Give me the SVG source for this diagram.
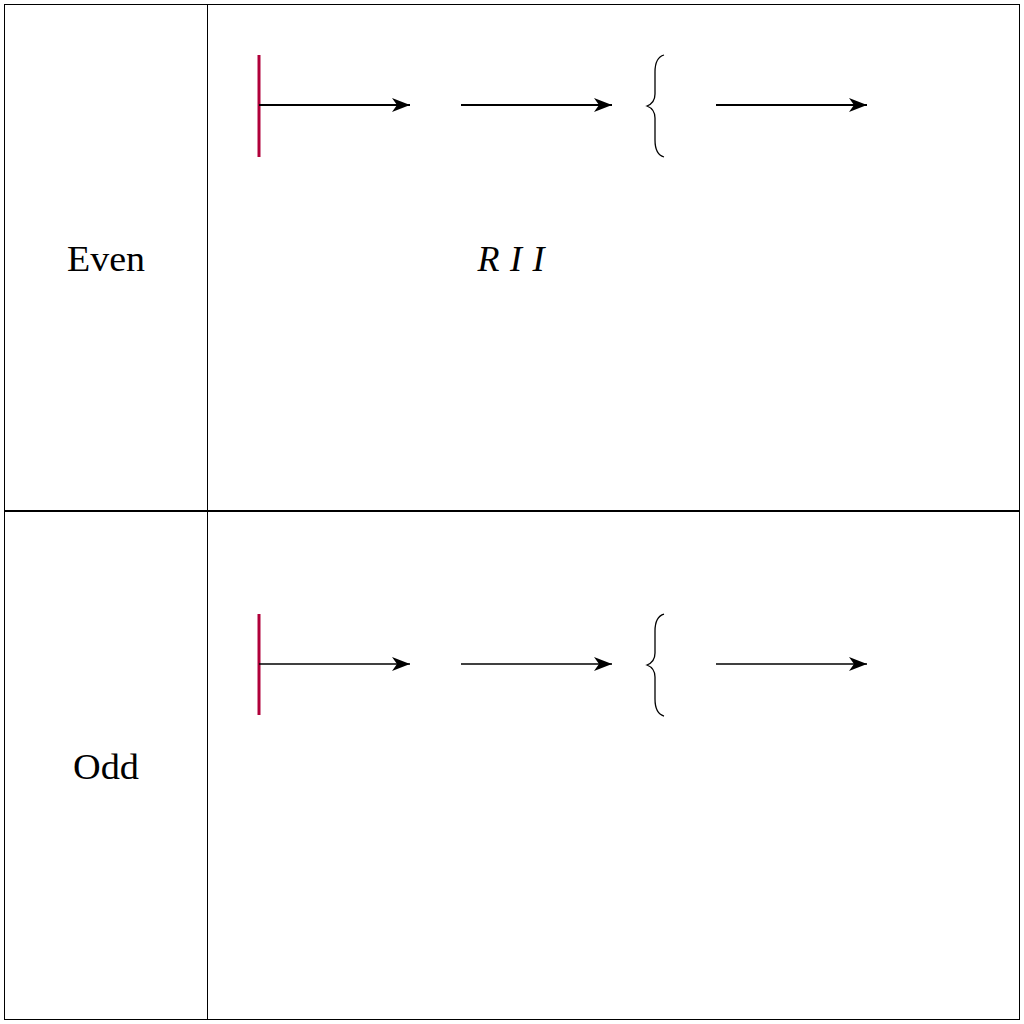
<svg xmlns="http://www.w3.org/2000/svg" width="1024" height="1024" viewBox="0 0 1024 1024">
<style>
.frame{fill:none;stroke:#000;stroke-width:1}
.lbl{font-family:"Liberation Serif",serif;font-size:36px;fill:#000;text-anchor:middle}
.bar{stroke:#b0003a;stroke-width:3}
.brace{fill:none;stroke:#000;stroke-width:1.3}
.a1{stroke:#000;stroke-width:2;fill:none}
.a2{stroke:#000;stroke-width:1.4;fill:none}
</style>
<defs>
<marker id="ah" viewBox="0 0 20 14" refX="18" refY="7" markerWidth="20" markerHeight="14" markerUnits="userSpaceOnUse" orient="auto">
<path d="M0,0 L18,7 L0,14 L5,7 Z" fill="#000"/>
</marker>
</defs>
<rect x="0" y="0" width="1024" height="1024" fill="#fff"/>
<g id="table">
<rect class="frame" x="4.5" y="4.5" width="1015" height="1015"/>
<line class="frame" x1="207.5" y1="4" x2="207.5" y2="1020"/>
<line x1="4" y1="511" x2="1020" y2="511" stroke="#000" stroke-width="2"/>
</g>
<g id="even-label"><text class="lbl" x="106" y="271" textLength="78" lengthAdjust="spacingAndGlyphs">Even</text></g>
<g id="odd-label"><text class="lbl" x="106" y="779" textLength="66" lengthAdjust="spacingAndGlyphs">Odd</text></g>
<g id="rii-label"><text class="lbl" x="511" y="271" font-style="italic" textLength="67" lengthAdjust="spacing">R I I</text></g>
<g id="even-bar"><line class="bar" x1="259" y1="55" x2="259" y2="157"/></g>
<g id="even-brace"><path class="brace" d="M664,55 C657,57 655,63 655,72 L655,94 C655,101 652,104 647,106 C652,108 655,111 655,118 L655,140 C655,149 657,155 664,157"/></g>
<g id="odd-bar"><line class="bar" x1="259" y1="614" x2="259" y2="715"/></g>
<g id="odd-brace"><path class="brace" d="M664,614 C657,616 655,622 655,631 L655,653 C655,660 652,663 647,665 C652,667 655,670 655,677 L655,699 C655,708 657,714 664,716"/></g>
<g id="connectors">
<line class="a1" x1="259" y1="105" x2="410" y2="105" marker-end="url(#ah)"/>
<line class="a1" x1="461" y1="105" x2="612" y2="105" marker-end="url(#ah)"/>
<line class="a1" x1="716" y1="105" x2="867" y2="105" marker-end="url(#ah)"/>
<line class="a2" x1="259" y1="664" x2="410" y2="664" marker-end="url(#ah)"/>
<line class="a2" x1="461" y1="664" x2="612" y2="664" marker-end="url(#ah)"/>
<line class="a2" x1="716" y1="664" x2="867" y2="664" marker-end="url(#ah)"/>
</g>
</svg>
